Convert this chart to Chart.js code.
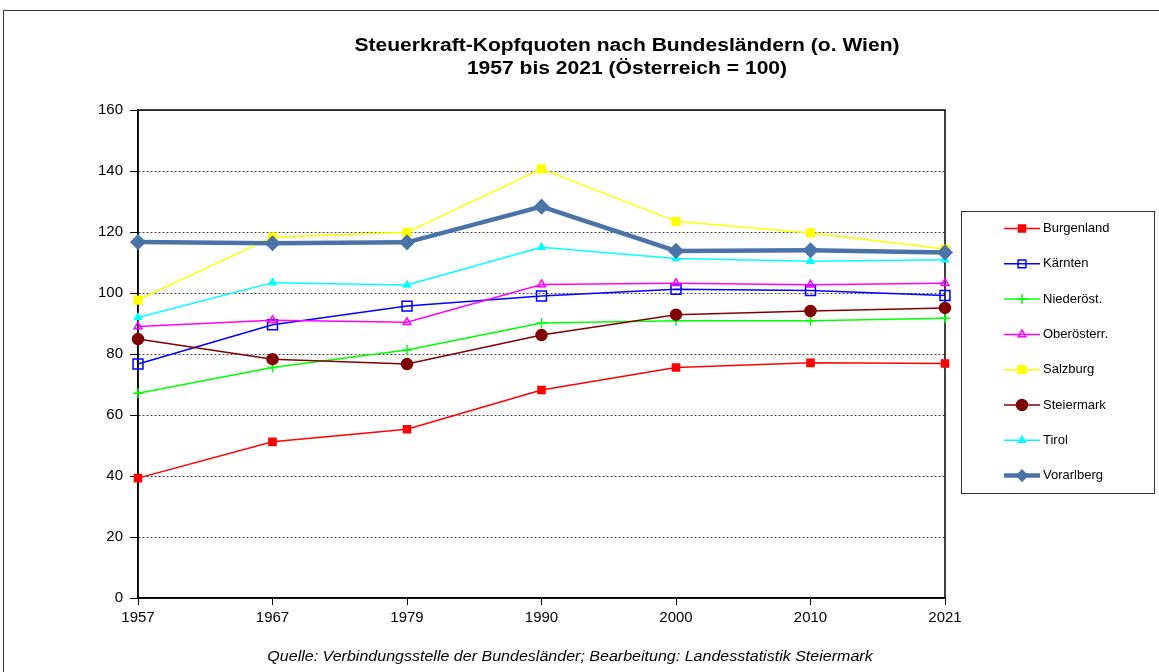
<!DOCTYPE html>
<html>
<head>
<meta charset="utf-8">
<script src="https://cdn.jsdelivr.net/npm/chart.js@4"></script>
<style>
  body { margin: 0; background: #fff; overflow: hidden; }
  #wrap { position: relative; width: 1159px; height: 672px; font-family: "Liberation Sans", Arial, sans-serif; }
  #frame { position: absolute; left: 3px; top: 10px; width: 1200px; height: 700px; border: 1px solid #333; }
  .title { position: absolute; left: 327px; width: 600px; text-align: center; font-weight: bold; font-size: 18px; color: #000; transform: scaleX(1.17); }
  #source { position: absolute; left: 170px; width: 800px; top: 648px; text-align: center; font-style: italic; font-size: 14px; color: #000; transform: scaleX(1.145); }
  canvas { position: absolute; left: 0; top: 0; }
</style>
</head>
<body>
<div id="wrap">
  <div id="frame"></div>
  <canvas id="chart" width="1159" height="672"></canvas>
  <div class="title" style="top:35px">Steuerkraft-Kopfquoten nach Bundesländern (o. Wien)</div>
  <div class="title" style="top:58px">1957 bis 2021 (Österreich = 100)</div>
  <div id="source">Quelle: Verbindungsstelle der Bundesländer; Bearbeitung: Landesstatistik Steiermark</div>
</div>
<script>
// Daten
const years = ['1957', '1967', '1979', '1990', '2000', '2010', '2021'];
const burgenland  = [39.3, 51.2, 55.3, 68.2, 75.6, 77.1, 76.9];
const kaernten    = [76.7, 89.6, 95.7, 99.0, 101.2, 100.8, 99.2];
const niederoest  = [67.1, 75.6, 81.3, 90.2, 90.9, 90.9, 91.7];
const oberoest    = [89.0, 91.1, 90.4, 102.8, 103.2, 102.7, 103.2];
const salzburg    = [97.7, 118.3, 119.9, 140.7, 123.5, 119.7, 114.4];
const steiermark  = [84.9, 78.3, 76.7, 86.2, 92.9, 94.1, 95.1];
const tirol       = [92.0, 103.4, 102.6, 115.0, 111.3, 110.4, 110.9];
const vorarlberg  = [116.7, 116.3, 116.6, 128.3, 113.8, 114.0, 113.3];
const yTicks = [0, 20, 40, 60, 80, 100, 120, 140, 160];

function series(label, data, color, style, radius, filled, width) {
    return {
        label: label,
        data: data,
        borderColor: color,
        borderWidth: width || 1.5,
        pointStyle: style,
        pointRadius: radius,
        pointHoverRadius: radius,
        pointBorderColor: color,
        pointBackgroundColor: filled ? color : 'rgba(255,255,255,0)',
        pointBorderWidth: 1.5,
        tension: 0,
        clip: false
    };
}

const datasets = [
    series('Burgenland', burgenland, '#ff0000', 'rect', 5, true),
    series('Kärnten', kaernten, '#0000ff', 'rect', 7, false),
    series('Niederöst.', niederoest, '#00ff00', 'cross', 5, false),
    series('Oberösterr.', oberoest, '#ff00ff', 'triangle', 4.5, false),
    series('Salzburg', salzburg, '#ffff00', 'rect', 5.5, true),
    series('Steiermark', steiermark, '#800000', 'circle', 5.5, true),
    series('Tirol', tirol, '#00ffff', 'triangle', 4, true),
    series('Vorarlberg', vorarlberg, '#4a74a8', 'rectRot', 7, true, 4.5)
];
// spätere Reihen oben zeichnen
datasets.forEach((d, i) => d.order = datasets.length - i);

// Rahmen um die Zeichenfläche
const plotFrame = {
    id: 'plotFrame',
    beforeDatasetsDraw(chart) {
        const a = chart.chartArea;
        const ctx = chart.ctx;
        ctx.save();
        ctx.strokeStyle = '#000';
        ctx.lineWidth = 1.5;
        ctx.strokeRect(a.left, a.top, a.right - a.left, a.bottom - a.top);
        ctx.restore();
    }
};

// Legende mit Linie + Markierung im Kasten
const boxLegend = {
    id: 'boxLegend',
    afterDraw(chart) {
        const ctx = chart.ctx;
        ctx.save();
        ctx.strokeStyle = '#333';
        ctx.lineWidth = 1;
        ctx.strokeRect(961.5, 211.5, 193, 282);
        ctx.font = '13px "Liberation Sans", Arial, sans-serif';
        ctx.textBaseline = 'middle';
        ctx.textAlign = 'left';
        chart.data.datasets.forEach((d, i) => {
            const y = 228.5 + i * 35.3;
            ctx.strokeStyle = d.borderColor;
            ctx.lineWidth = d.borderWidth;
            ctx.beginPath();
            ctx.moveTo(1004, y);
            ctx.lineTo(1040, y);
            ctx.stroke();
            ctx.fillStyle = d.pointBackgroundColor;
            ctx.strokeStyle = d.pointBorderColor;
            ctx.lineWidth = d.pointBorderWidth;
            Chart.helpers.drawPoint(ctx, {
                pointStyle: d.pointStyle,
                radius: Math.min(d.pointRadius, 5.5),
                rotation: 0,
                borderWidth: d.pointBorderWidth
            }, 1022, y);
            ctx.fillStyle = '#000';
            ctx.fillText(d.label, 1043, y);
        });
        ctx.restore();
    }
};

const ctx = document.getElementById('chart').getContext('2d');
const chart = new Chart(ctx, {
    type: 'line',
    data: { labels: years, datasets: datasets },
    plugins: [plotFrame, boxLegend],
    options: {
        responsive: false,
        animation: false,
        events: [],
        layout: { padding: { top: 110, right: 214, left: 0, bottom: 0 } },
        plugins: {
            legend: { display: false },
            title: { display: false },
            tooltip: { enabled: false }
        },
        scales: {
            x: {
                offset: false,
                afterFit(scale) { scale.height = 74; },
                grid: { drawOnChartArea: false, drawTicks: true, tickLength: 7, tickColor: '#000', tickWidth: 1 },
                border: { display: true, color: '#000', width: 1.5 },
                ticks: {
                    color: '#000', padding: 4, maxRotation: 0, autoSkip: false,
                    font: { family: '"Liberation Sans", Arial, sans-serif', size: 15 }
                }
            },
            y: {
                min: 0,
                max: 160,
                afterFit(scale) { scale.width = 138; },
                afterBuildTicks(scale) { scale.ticks = yTicks.map(v => ({ value: v })); },
                grid: {
                    color: '#444',
                    lineWidth: 1,
                    tickLength: 8,
                    tickColor: '#000',
                    tickWidth: 1
                },
                border: { display: true, color: '#000', width: 1.5, dash: [2, 2] },
                ticks: {
                    color: '#000', padding: 7,
                    font: { family: '"Liberation Sans", Arial, sans-serif', size: 15 }
                }
            }
        }
    }
});
</script>
</body>
</html>
